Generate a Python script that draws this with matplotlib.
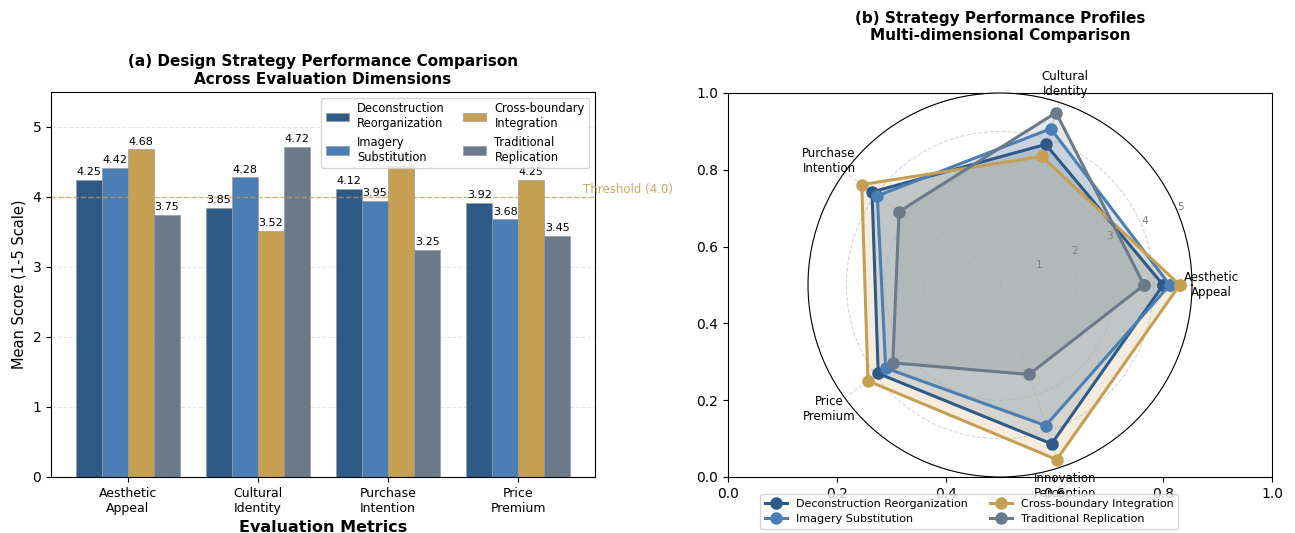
import numpy as np
import matplotlib
matplotlib.use("Agg")
import matplotlib.pyplot as plt

# evaluation data (mean scores, 1-5 scale)
metrics = ['Aesthetic\nAppeal', 'Cultural\nIdentity', 'Purchase\nIntention', 'Price\nPremium']
strategies = ['Deconstruction\nReorganization', 'Imagery\nSubstitution',
              'Cross-boundary\nIntegration', 'Traditional\nReplication']
strategy_names = ['Deconstruction Reorganization', 'Imagery Substitution',
                  'Cross-boundary Integration', 'Traditional Replication']

deconstruction = [4.25, 3.85, 4.12, 3.92]
imagery = [4.42, 4.28, 3.95, 3.68]
cross_boundary = [4.68, 3.52, 4.45, 4.25]
traditional = [3.75, 4.72, 3.25, 3.45]

# radar has one extra dimension
radar_dims = ['Aesthetic\nAppeal', 'Cultural\nIdentity', 'Purchase\nIntention',
              'Price\nPremium', 'Innovation\nPerception']
innovation = [4.35, 3.85, 4.78, 2.45]

threshold = 4.0
colors = ['#2E5A88', '#4A7EB5', '#C6A052', '#6A7A8B']

scores = [deconstruction, imagery, cross_boundary, traditional]

fig = plt.figure(figsize=(12.95, 5.33), dpi=100)
W, H = 1295, 533

# ---- (a) grouped bar chart ----
ax1 = fig.add_axes([51 / W, 56 / H, 544 / W, 385 / H])
x = np.arange(len(metrics))
width = 0.2
for i, (vals, name, c) in enumerate(zip(scores, strategies, colors)):
    pos = x + (i - 1.5) * width
    bars = ax1.bar(pos, vals, width, label=name, color=c, edgecolor='#9a9a9a', linewidth=0.5)
    for b, v in zip(bars, vals):
        ax1.text(b.get_x() + b.get_width() / 2, v + 0.04, f'{v:.2f}',
                 ha='center', va='bottom', fontsize=8)

ax1.axhline(threshold, color='#C6A052', linestyle='--', linewidth=1, alpha=0.7)
ax1.text(3.5, threshold + 0.1, 'Threshold (4.0)', color='#C6A052', fontsize=8.5,
         va='center', alpha=0.9)
ax1.set_ylim(0, 5.5)
ax1.set_xticks(x)
ax1.set_xticklabels(metrics, fontsize=9)
ax1.set_xlabel('Evaluation Metrics', fontsize=11.5, fontweight='bold')
ax1.set_ylabel('Mean Score (1-5 Scale)', fontsize=10.5)
ax1.set_title('(a) Design Strategy Performance Comparison\nAcross Evaluation Dimensions',
              fontsize=11, fontweight='bold')
ax1.yaxis.grid(True, linestyle='--', alpha=0.3)
ax1.set_axisbelow(True)
ax1.legend(loc='upper right', ncol=2, fontsize=8.3, handlelength=2.0,
           labelspacing=0.45, columnspacing=1.6, handletextpad=0.7)

# ---- (b) radar chart ----
rect = [728 / W, 56 / H, 544 / W, 384 / H]
ax_bg = fig.add_axes(rect)
ax2 = fig.add_axes(rect, projection='polar')

n = len(radar_dims)
angles = np.linspace(0, 2 * np.pi, n, endpoint=False).tolist()
angles += angles[:1]

for i, (vals, name, c) in enumerate(zip(scores, strategy_names, colors)):
    data = list(vals) + [innovation[i]]
    data += data[:1]
    ax2.plot(angles, data, 'o-', linewidth=2.2, color=c, label=name, markersize=8)
    ax2.fill(angles, data, color=c, alpha=0.18)

ax2.set_xticks(angles[:-1])
ax2.set_xticklabels(radar_dims, fontsize=8.5)
ax2.set_ylim(0, 5)
ax2.set_yticks([1, 2, 3, 4, 5])
ax2.set_yticklabels(['1', '2', '3', '4', '5'], fontsize=7.5, color='gray')
ax2.grid(True, linestyle='--', alpha=0.5)
ax2.set_title('(b) Strategy Performance Profiles\nMulti-dimensional Comparison',
              fontsize=11, fontweight='bold', pad=38)
ax2.legend(loc='upper center', bbox_to_anchor=(0.42, -0.03), ncol=2, fontsize=8)

fig.savefig('out.png', dpi=100)
